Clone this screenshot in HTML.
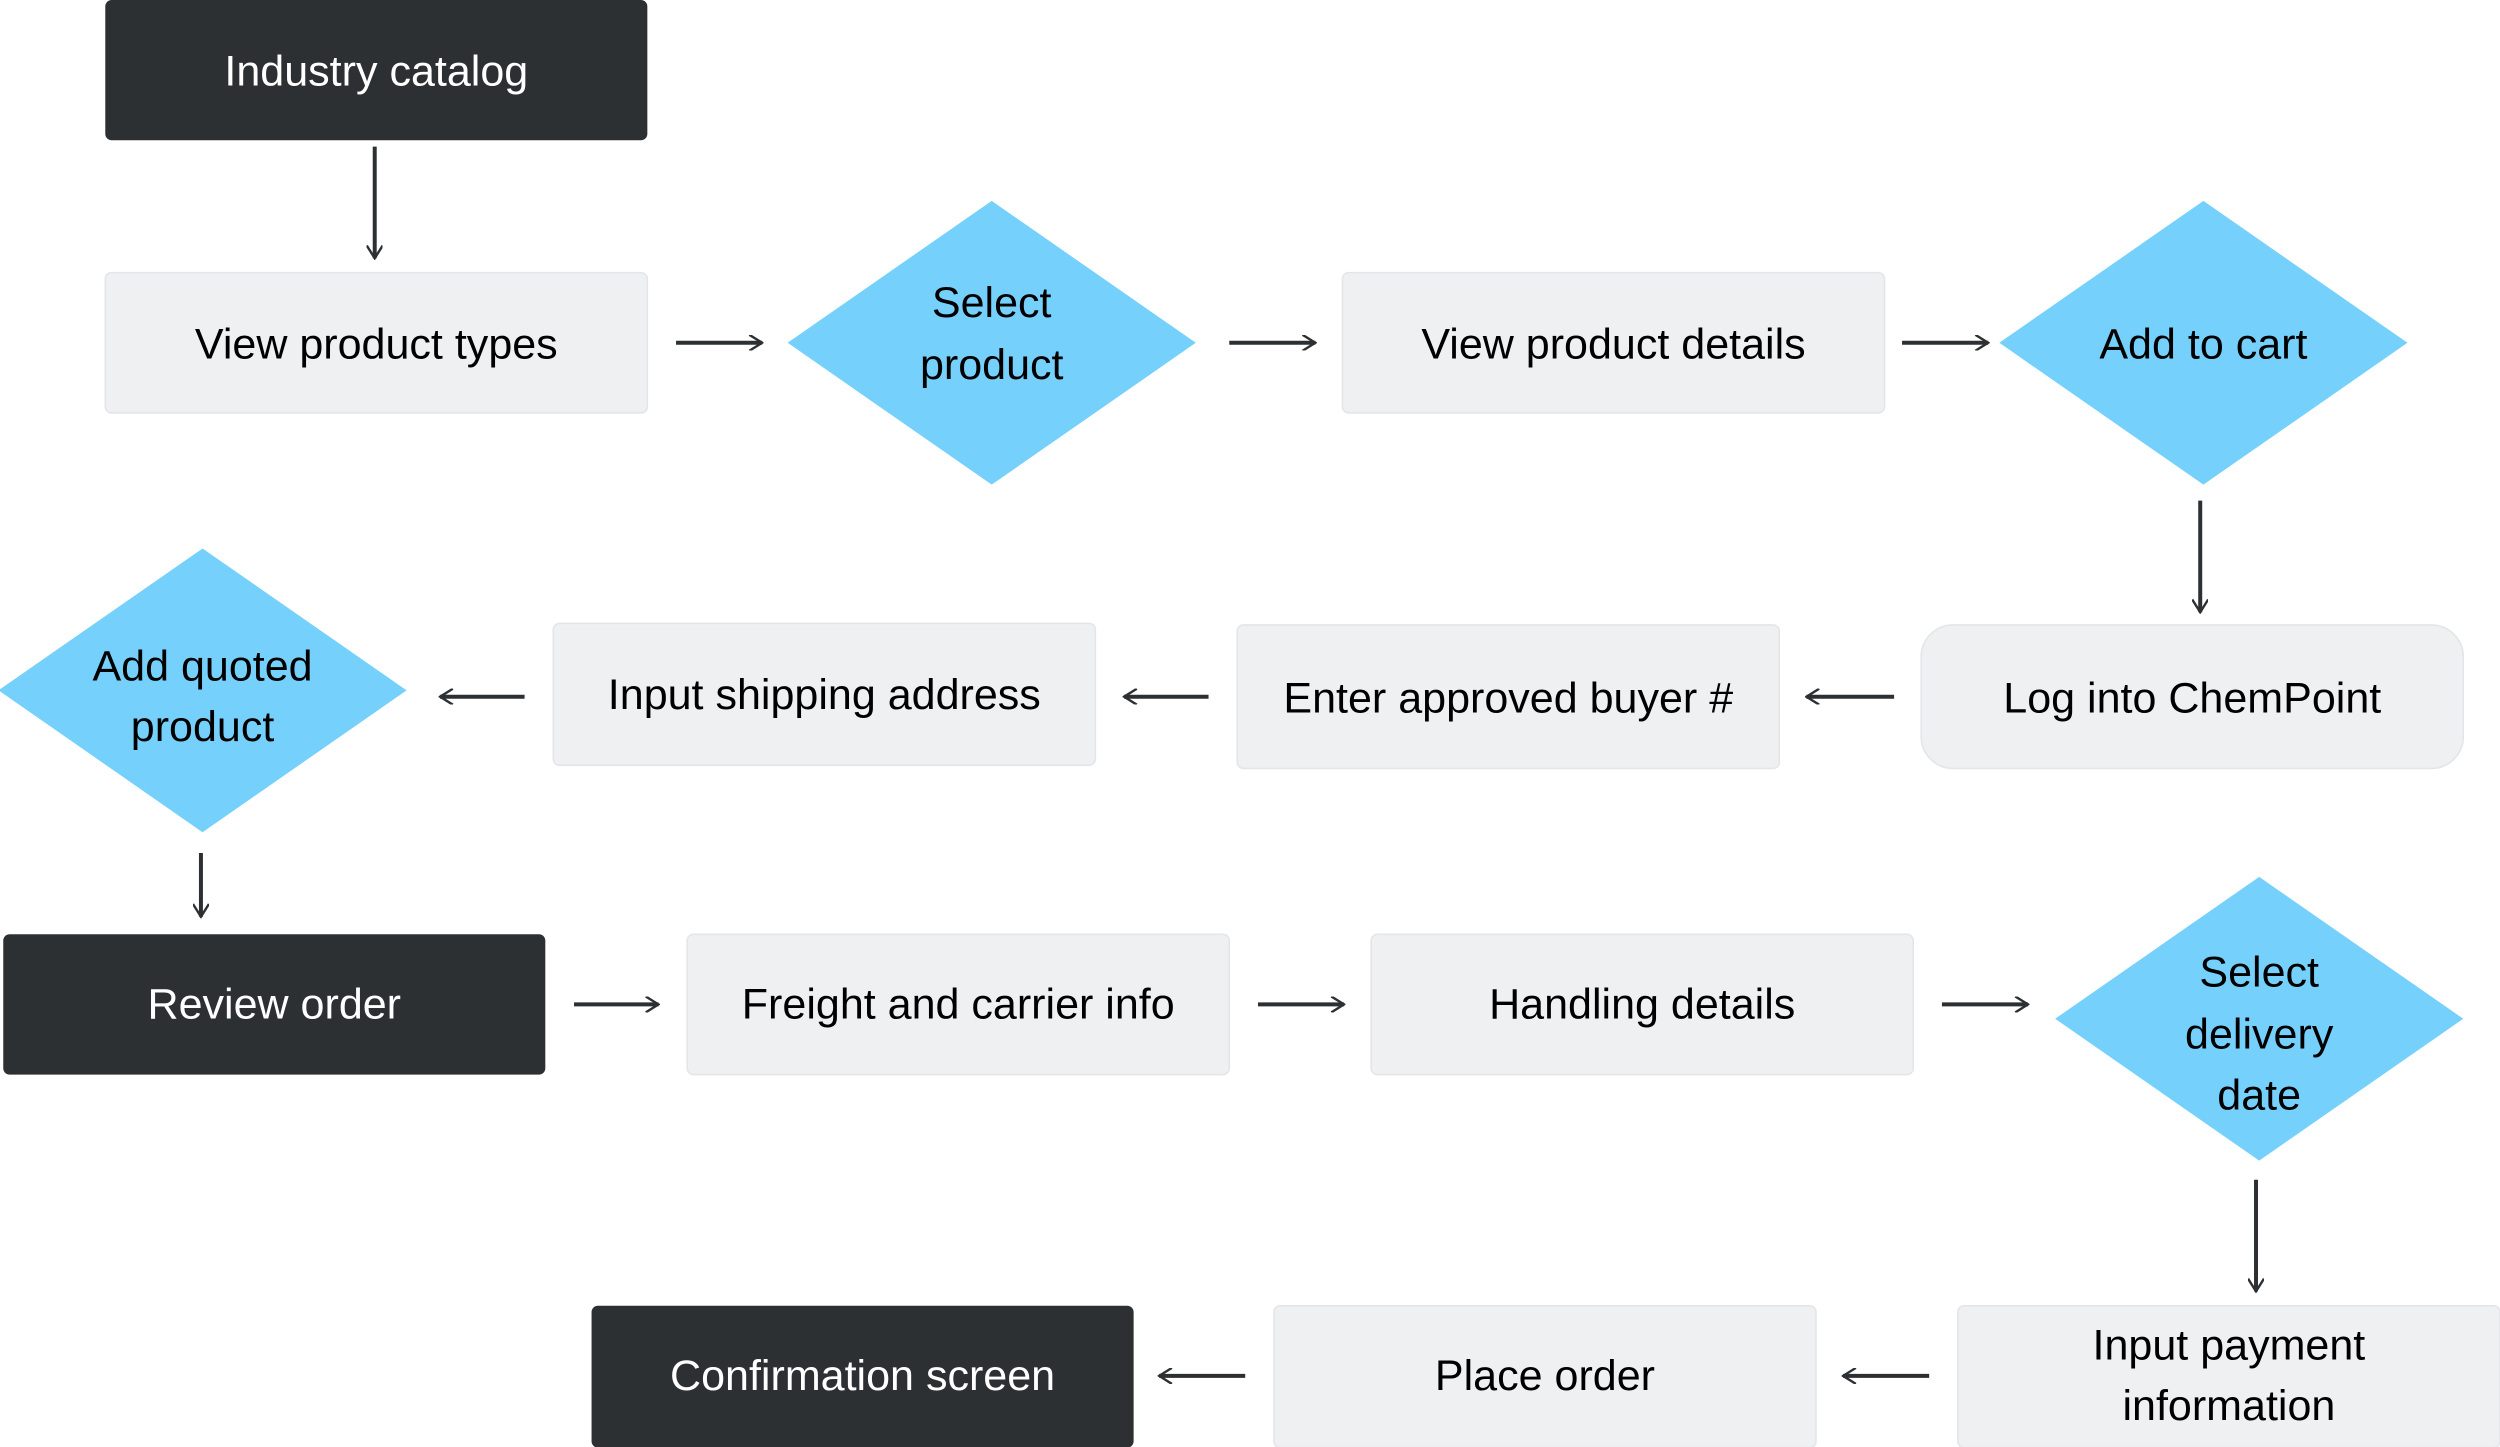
<!DOCTYPE html>
<html><head><meta charset="utf-8"><style>html,body{margin:0;padding:0;background:#fff}svg{display:block}text{font-family:"Liberation Sans",sans-serif;font-size:27px;text-anchor:middle;dominant-baseline:central}</style></head><body>
<svg width="2500" height="1447" viewBox="0 0 1568 907.6" xmlns="http://www.w3.org/2000/svg">
<defs><marker id="a" viewBox="0 0 10 10" refX="9" refY="5" markerWidth="10" markerHeight="10" markerUnits="userSpaceOnUse" orient="auto"><path d="M1 0 L9 5 L1 10" fill="none" stroke="#2d3033" stroke-width="1.5"/></marker></defs>
<g fill="#2d3033">
<rect x="66" y="0" width="340" height="88" rx="4"/>
<rect x="2" y="586" width="340" height="88" rx="4"/>
<rect x="371" y="819" width="340" height="89" rx="4"/>
</g>
<g fill="#eff0f2" stroke="#e3e5e8" stroke-width="1">
<rect x="66" y="171" width="340" height="88" rx="4"/>
<rect x="842" y="171" width="340" height="88" rx="4"/>
<rect x="1205" y="392" width="340" height="90" rx="20"/>
<rect x="776" y="392" width="340" height="90" rx="4"/>
<rect x="347" y="391" width="340" height="89" rx="4"/>
<rect x="431" y="586" width="340" height="88" rx="4"/>
<rect x="860" y="586" width="340" height="88" rx="4"/>
<rect x="1228" y="819" width="340" height="89" rx="4"/>
<rect x="799" y="819" width="340" height="89" rx="4"/>
</g>
<g fill="#75d1fc">
<polygon points="494,215 622,126 750,215 622,304"/>
<polygon points="1254,215 1382,126 1510,215 1382,304"/>
<polygon points="-1,433 127,344 255,433 127,522"/>
<polygon points="1289,639 1417,550 1545,639 1417,728"/>
</g>
<g stroke="#2d3033" stroke-width="2.5" marker-end="url(#a)" fill="none">
<line x1="235" y1="92" x2="235" y2="162"/>
<line x1="424" y1="215" x2="478" y2="215"/>
<line x1="771" y1="215" x2="825" y2="215"/>
<line x1="1193" y1="215" x2="1247" y2="215"/>
<line x1="1380" y1="314" x2="1380" y2="384"/>
<line x1="1188" y1="437" x2="1133" y2="437"/>
<line x1="758" y1="437" x2="705" y2="437"/>
<line x1="329" y1="437" x2="276" y2="437"/>
<line x1="126" y1="535" x2="126" y2="575"/>
<line x1="360" y1="630" x2="413" y2="630"/>
<line x1="789" y1="630" x2="843" y2="630"/>
<line x1="1218" y1="630" x2="1272" y2="630"/>
<line x1="1415" y1="740" x2="1415" y2="810"/>
<line x1="1210" y1="863" x2="1156" y2="863"/>
<line x1="781" y1="863" x2="727" y2="863"/>
</g>
<g fill="#fff">
<text x="236" y="45">Industry catalog</text>
<text x="172" y="630">Review order</text>
<text x="541" y="863">Confirmation screen</text>
</g>
<g fill="#000">
<text x="236" y="216">View product types</text>
<text x="622" y="190">Select</text><text x="622" y="229">product</text>
<text x="1012" y="216">View product details</text>
<text x="1382" y="216">Add to cart</text>
<text x="1375" y="438">Log into ChemPoint</text>
<text x="946" y="438">Enter approved buyer #</text>
<text x="517" y="436">Input shipping address</text>
<text x="127" y="418">Add quoted</text><text x="127" y="456">product</text>
<text x="601" y="630">Freight and carrier info</text>
<text x="1030" y="630">Handling details</text>
<text x="1417" y="610">Select</text><text x="1417" y="649">delivery</text><text x="1417" y="687">date</text>
<text x="1398" y="844">Input payment</text><text x="1398" y="882">information</text>
<text x="969" y="863">Place order</text>
</g>
</svg>
</body></html>
